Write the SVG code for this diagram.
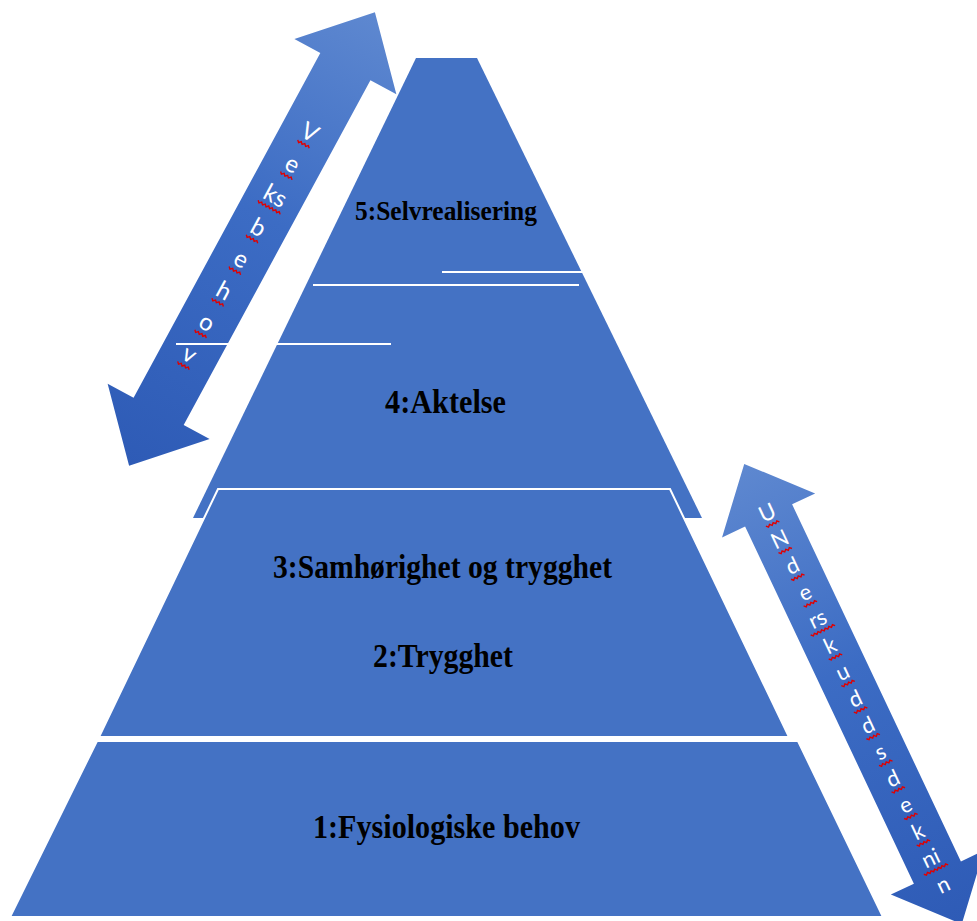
<svg xmlns="http://www.w3.org/2000/svg" width="977" height="921" viewBox="0 0 977 921">
  <style>
    .tier { fill: #4472C4; stroke: #FFFFFF; stroke-width: 2; }
    .rule { stroke: #FFFFFF; stroke-width: 2; fill: none; }
    .label { font-family: "Liberation Serif", "Times New Roman", serif; font-weight: bold; fill: #000000; text-anchor: middle; }
    .arrow-text { font-family: Lato, "Open Sans", sans-serif; fill: #FFFFFF; text-anchor: middle; }
    .squiggle { stroke: #E00000; stroke-width: 1.4; fill: none; }
  </style>
  <defs>
    <linearGradient id="arrowFill" x1="0" y1="0" x2="0" y2="1">
      <stop offset="0" stop-color="#5E88D0"/>
      <stop offset="0.45" stop-color="#3C6CC4"/>
      <stop offset="1" stop-color="#2E5BB6"/>
    </linearGradient>
    <path id="sq1" d="M-7,0 l2,2 l2,-2 l2,2 l2,-2 l2,2 l2,-2 l2,2"/>
    <path id="sq2" d="M-13,0 l2,2 l2,-2 l2,2 l2,-2 l2,2 l2,-2 l2,2 l2,-2 l2,2 l2,-2 l2,2 l2,-2 l2,2"/>
  </defs>

  <!-- pyramid tiers -->
  <g id="tier-top">
    <polygon class="tier" points="416,58 477,58 702,518 193,518" style="stroke:none"/>
  </g>
  <g id="tier-middle">
    <polygon class="tier" points="218,489 670,489 789,737 99,737"/>
  </g>
  <g id="tier-base">
    <polygon class="tier" points="97,741 798,741 883,917 10,917"/>
  </g>

  <!-- double arrow: growth needs -->
  <g id="arrow-vekst" transform="translate(252,239) rotate(28.45)">
    <path fill="url(#arrowFill)" d="M0,-258 L58,-196 L28.5,-196 L28.5,196 L58,196 L0,258 L-58,196 L-28.5,196 L-28.5,-196 L-58,-196 Z"/>
    <g class="arrow-text" font-size="24">
      <text x="0" y="-113">V</text>
      <text x="0" y="-77">e</text>
      <text x="0" y="-41">ks</text>
      <text x="0" y="-5">b</text>
      <text x="0" y="31">e</text>
      <text x="0" y="67">h</text>
      <text x="0" y="103">o</text>
      <text x="0" y="139">v</text>
    </g>
    <g class="squiggle">
      <use href="#sq1" x="0" y="-109"/>
      <use href="#sq1" x="0" y="-73"/>
      <use href="#sq2" x="0" y="-37"/>
      <use href="#sq1" x="0" y="-1"/>
      <use href="#sq1" x="0" y="35"/>
      <use href="#sq1" x="0" y="71"/>
      <use href="#sq1" x="0" y="107"/>
      <use href="#sq1" x="0" y="143"/>
    </g>
  </g>

  <!-- double arrow: deficiency needs -->
  <g id="arrow-underskudd" transform="translate(853,694) rotate(-25.3)">
    <path fill="url(#arrowFill)" d="M0,-254.5 L51.5,-197.5 L26,-197.5 L26,197.5 L51.5,197.5 L0,254.5 L-51.5,197.5 L-26,197.5 L-26,-197.5 L-51.5,-197.5 Z"/>
    <g class="arrow-text" font-size="22">
      <text x="0" y="-193">U</text>
      <text x="0" y="-163.6">N</text>
      <text x="0" y="-134.2">d</text>
      <text x="0" y="-104.8">e</text>
      <text x="0" y="-75.4">rs</text>
      <text x="0" y="-46">k</text>
      <text x="0" y="-16.6">u</text>
      <text x="0" y="12.8">d</text>
      <text x="0" y="42.2">d</text>
      <text x="0" y="71.6">s</text>
      <text x="0" y="101">d</text>
      <text x="0" y="130.4">e</text>
      <text x="0" y="159.8">k</text>
      <text x="0" y="189.2">ni</text>
      <text x="0" y="218.6">n</text>
    </g>
    <g class="squiggle">
      <use href="#sq1" x="0" y="-189"/>
      <use href="#sq1" x="0" y="-159.6"/>
      <use href="#sq1" x="0" y="-130.2"/>
      <use href="#sq1" x="0" y="-100.8"/>
      <use href="#sq2" x="0" y="-71.4"/>
      <use href="#sq1" x="0" y="-42"/>
      <use href="#sq1" x="0" y="-12.6"/>
      <use href="#sq1" x="0" y="16.8"/>
      <use href="#sq1" x="0" y="46.2"/>
      <use href="#sq1" x="0" y="75.6"/>
      <use href="#sq1" x="0" y="105"/>
      <use href="#sq1" x="0" y="134.4"/>
      <use href="#sq1" x="0" y="163.8"/>
      <use href="#sq2" x="0" y="193.2"/>
    </g>
  </g>

  <!-- divider strokes -->
  <g id="dividers">
    <line class="rule" x1="442" y1="272" x2="583" y2="272"/>
    <line class="rule" x1="313" y1="285" x2="579" y2="285"/>
    <line class="rule" x1="176" y1="344" x2="391" y2="344"/>
  </g>

  <!-- tier labels -->
  <g id="labels">
    <text class="label" x="446" y="220" font-size="28" textLength="182" lengthAdjust="spacingAndGlyphs">5:Selvrealisering</text>
    <text class="label" x="445.5" y="413" font-size="33" textLength="121" lengthAdjust="spacingAndGlyphs">4:Aktelse</text>
    <text class="label" x="442.5" y="578" font-size="33" textLength="339" lengthAdjust="spacingAndGlyphs">3:Samhørighet og trygghet</text>
    <text class="label" x="443" y="667" font-size="33" textLength="140" lengthAdjust="spacingAndGlyphs">2:Trygghet</text>
    <text class="label" x="446.5" y="838" font-size="33" textLength="267" lengthAdjust="spacingAndGlyphs">1:Fysiologiske behov</text>
  </g>
</svg>
